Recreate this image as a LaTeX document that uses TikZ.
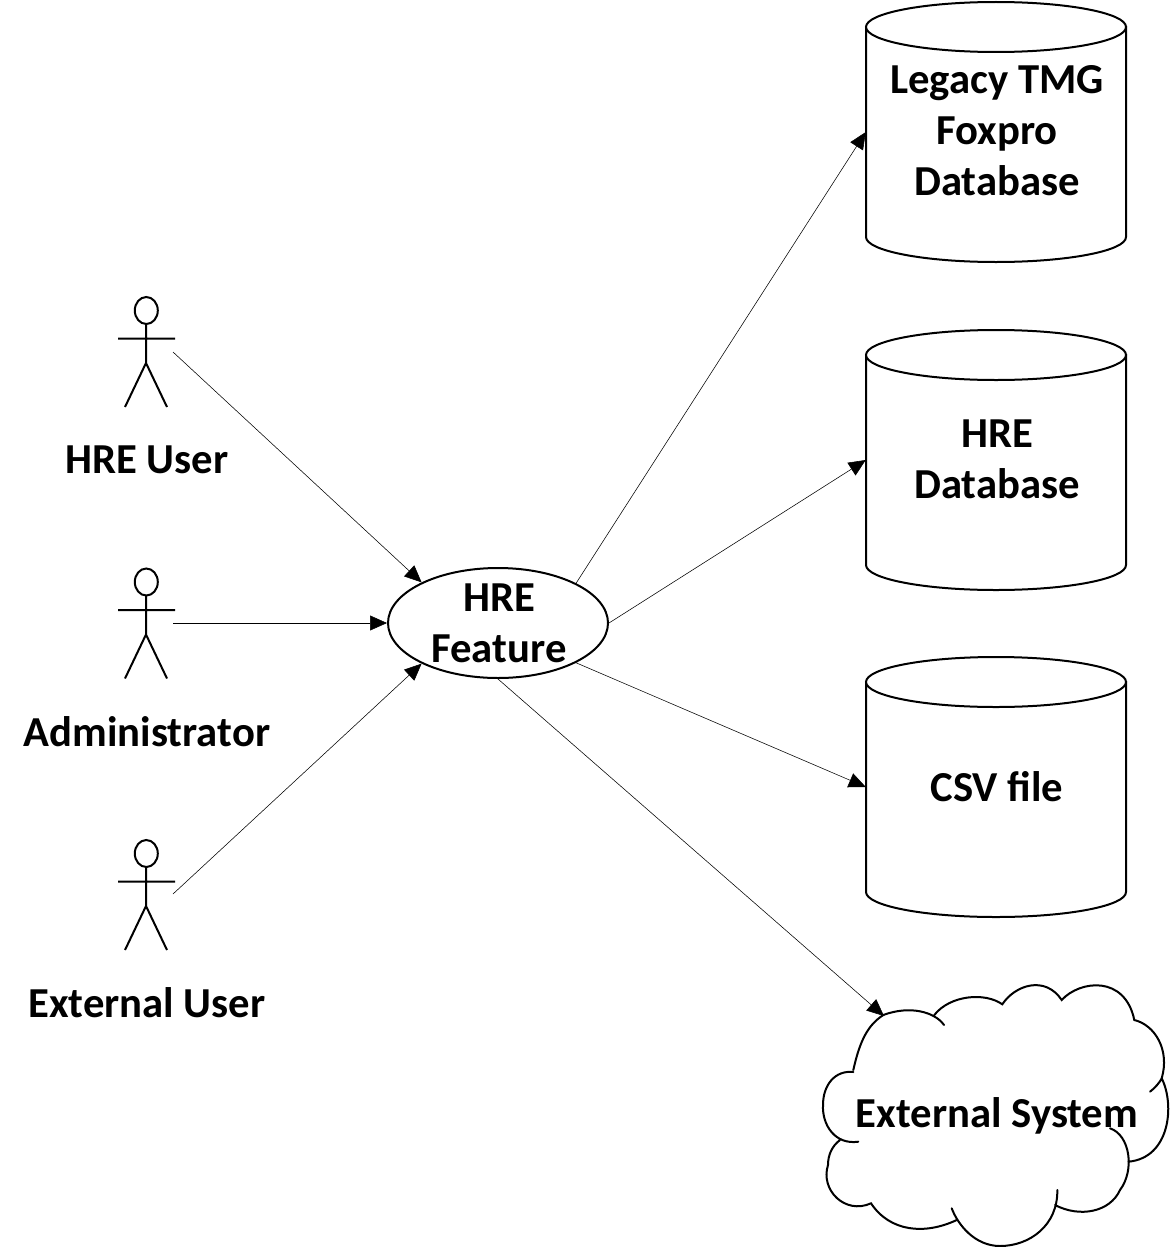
\documentclass[tikz,border=0pt]{standalone}
\usepackage{fontspec}
\setmainfont{Carlito}
\usetikzlibrary{shapes.geometric,arrows.meta,calc}
\tikzset{
  lab/.style={font=\fontsize{42.7}{51}\selectfont\bfseries,align=center,inner sep=0pt,text=black,xshift=1pt},
  outline/.style={draw=black,line width=2pt},
  conn/.style={draw=black,line width=0.55pt,-{Triangle[length=17pt,width=15pt]}},
  dbnode/.style={lab,minimum width=260pt,minimum height=260pt,xshift=-1pt}
}
\newcommand{\actorfig}[2]{%
  \begin{scope}[shift={(#1,#2)}]
    \draw[outline] (0.3,13.5) ellipse [x radius=11.5,y radius=13.5];
    \draw[outline] (0,27) -- (0,66) (-28,41.5) -- (29,41.5) (-21,110) -- (0,66) -- (21,110);
  \end{scope}
}
\newcommand{\cyl}[2]{%
  \draw[outline,fill=white] (#1-130,#2-105) -- (#1+130,#2-105) -- (#1+130,#2+105) arc[start angle=0,end angle=180,x radius=130,y radius=25] -- cycle;
  \draw[outline,fill=white] (#1,#2-105) ellipse [x radius=130,y radius=25];
}
\begin{document}
\begin{tikzpicture}[x=1pt,y=-1pt]
\useasboundingbox (0,0) rectangle (1171,1247);
\fill[white] (0,0) rectangle (1171,1247);

% actors
\actorfig{146}{297}
\actorfig{146}{568.5}
\actorfig{146}{840}
\node[lab] (u1) at (146,460) {HRE User};
\node[lab] (u2) at (146,732) {Administrator};
\node[lab] (u3) at (146,1003) {External User};
\coordinate (a1) at (173,352);
\coordinate (a2) at (173,623);
\coordinate (a3) at (173,894);

% feature
\node[outline,ellipse,minimum width=220pt,minimum height=110pt] (feature) at (498,623) {};
\node[lab] (ftext) at (498,623) {HRE\\Feature};

% databases
\cyl{996}{132}
\cyl{996}{460}
\cyl{996}{787}
\node[dbnode] (db1) at (996,132) {};
\node[dbnode] (db2) at (996,460) {};
\node[dbnode] (db3) at (996,787) {};
\node[lab] (t1) at (996,131) {Legacy TMG\\Foxpro\\Database};
\node[lab] (t2) at (996,459) {HRE\\Database};
\node[lab] (t3) at (996,787) {CSV file};

% cloud
\draw[outline,line cap=round]
  (853.3,1070) .. controls (860,1040) and (868,1025) .. (883.3,1015)
  .. controls (910,1005) and (935,1012) .. (944,1025)
  (934.3,1015) .. controls (950,995) and (985,992) .. (1002.3,1004.3)
  .. controls (1015,985) and (1045,975) .. (1061.7,1000)
  .. controls (1080,980) and (1125,975) .. (1134.3,1020)
  .. controls (1155,1025) and (1170,1050) .. (1161.7,1078.3)
  .. controls (1160,1082) and (1155,1088) .. (1150,1091.7)
  (1161.7,1078.3) .. controls (1175,1105) and (1170,1158) .. (1128.3,1161.7)
  (1110,1128.3) .. controls (1130,1135) and (1135,1170) .. (1120,1190)
  .. controls (1110,1212) and (1080,1218) .. (1055,1205)
  (1057.3,1190) .. controls (1058,1225) and (1030,1246) .. (1000,1246)
  .. controls (975,1246) and (958,1225) .. (951.7,1208.3)
  (956.7,1220) .. controls (925,1235) and (890,1232) .. (871,1203.3)
  .. controls (845,1215) and (820,1190) .. (828,1165)
  .. controls (828,1155) and (832,1146) .. (840,1140)
  (858.3,1141.7) .. controls (835,1145) and (822,1125) .. (823,1105)
  .. controls (823,1085) and (835,1070) .. (853.3,1072);
\node[lab] (cloud) at (996,1116) {External System};

% connectors
\draw[conn] (a1) -- (feature.152);
\draw[conn] (a2) -- (feature.west);
\draw[conn] (a3) -- (feature.208);
\draw[conn] (feature.27) -- (db1.west);
\draw[conn] (feature.east) -- (db2.west);
\draw[conn] (feature.-27) -- (db3.west);
\coordinate (cloudin) at (884,1016);
\draw[conn] (feature.south) -- (cloudin);
\end{tikzpicture}
\end{document}
